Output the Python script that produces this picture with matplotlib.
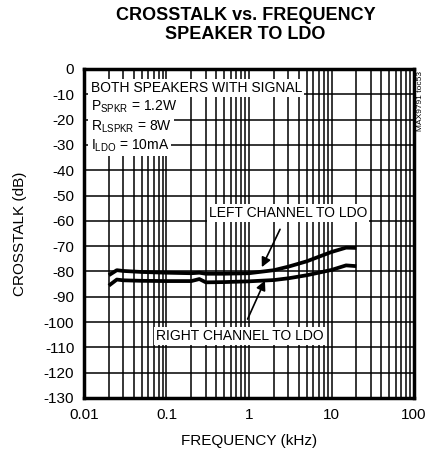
import matplotlib
matplotlib.use('Agg')
import matplotlib.pyplot as plt
import numpy as np
from matplotlib.ticker import NullFormatter, LogLocator

plt.rcParams['font.family'] = ['Liberation Sans', 'DejaVu Sans']
plt.rcParams['axes.unicode_minus'] = False
plt.rcParams['mathtext.fontset'] = 'custom'
plt.rcParams['mathtext.rm'] = 'Liberation Sans'

# Data
freq_khz = [0.02, 0.025, 0.03, 0.05, 0.1, 0.2, 0.25, 0.3, 0.5, 1, 2, 3, 5, 10, 15, 20]
left_db = [-81.5, -79.5, -79.8, -80.2, -80.5, -80.7, -80.5, -80.9, -80.9, -80.7,
           -79.5, -78.1, -76.0, -72.3, -70.6, -70.7]
right_db = [-85.6, -83.2, -83.5, -83.7, -83.8, -83.8, -83.0, -84.3, -84.2, -83.9,
            -83.4, -82.7, -81.5, -79.4, -77.6, -77.9]

x_ticks = [0.01, 0.1, 1, 10, 100]
x_labels = ['0.01', '0.1', '1', '10', '100']
y_ticks = list(range(0, -140, -10))

fig = plt.figure(figsize=(4.27, 4.59), dpi=100)
ax = fig.add_axes([0.1967, 0.1329, 0.7729, 0.7168])

ax.plot(freq_khz, left_db, color='black', lw=2.7, solid_capstyle='butt')
ax.plot(freq_khz, right_db, color='black', lw=2.7, solid_capstyle='butt')

ax.set_xscale('log')
ax.set_xlim(0.01, 100)
ax.set_ylim(-130, 0)
ax.set_xticks(x_ticks)
ax.set_xticklabels(x_labels)
ax.xaxis.set_minor_locator(LogLocator(base=10, subs=np.arange(2, 10)))
ax.xaxis.set_minor_formatter(NullFormatter())
ax.set_yticks(y_ticks)
ax.set_yticklabels([str(v) for v in y_ticks])
ax.tick_params(which='both', length=0, labelsize=11, pad=7)
ax.grid(which='major', axis='both', color='black', lw=1.1)
ax.grid(which='minor', axis='x', color='black', lw=1.1)
for s in ax.spines.values():
    s.set_linewidth(2.5)

ax.set_xlabel('FREQUENCY (kHz)', fontsize=11, labelpad=9)
ax.set_ylabel('CROSSTALK (dB)', fontsize=11, labelpad=12)
fig.suptitle('CROSSTALK vs. FREQUENCY\nSPEAKER TO LDO', fontsize=13,
             fontweight='bold', x=0.575, y=0.985, linespacing=1.2)

box = dict(facecolor='white', edgecolor='none', pad=1.5)
lines = ['BOTH SPEAKERS WITH SIGNAL',
         r'P$_{\mathrm{SPKR}}$ = 1.2W',
         r'R$_{\mathrm{LSPKR}}$ = 8W',
         r'I$_{\mathrm{LDO}}$ = 10mA']
for i, t in enumerate(lines):
    ax.text(0.0120, -7.5 - 7.6 * i, t, fontsize=10, va='center', ha='left', bbox=box)

ax.annotate('LEFT CHANNEL TO LDO', xy=(1.43, -78.3), xytext=(2.97, -56.8),
            fontsize=10, ha='center', va='center', bbox=box,
            arrowprops=dict(arrowstyle='-|>', color='black', lw=1.2,
                            mutation_scale=14, shrinkA=6, shrinkB=0))
ax.annotate('RIGHT CHANNEL TO LDO', xy=(1.56, -83.6), xytext=(0.78, -105.4),
            fontsize=10, ha='center', va='center', bbox=box,
            arrowprops=dict(arrowstyle='-|>', color='black', lw=1.2,
                            mutation_scale=14, shrinkA=6, shrinkB=0))

fig.text(0.985, 0.845, 'MAX9791 toc53', rotation=90, fontsize=6, ha='center', va='top')

fig.savefig('out.png', dpi=100)
